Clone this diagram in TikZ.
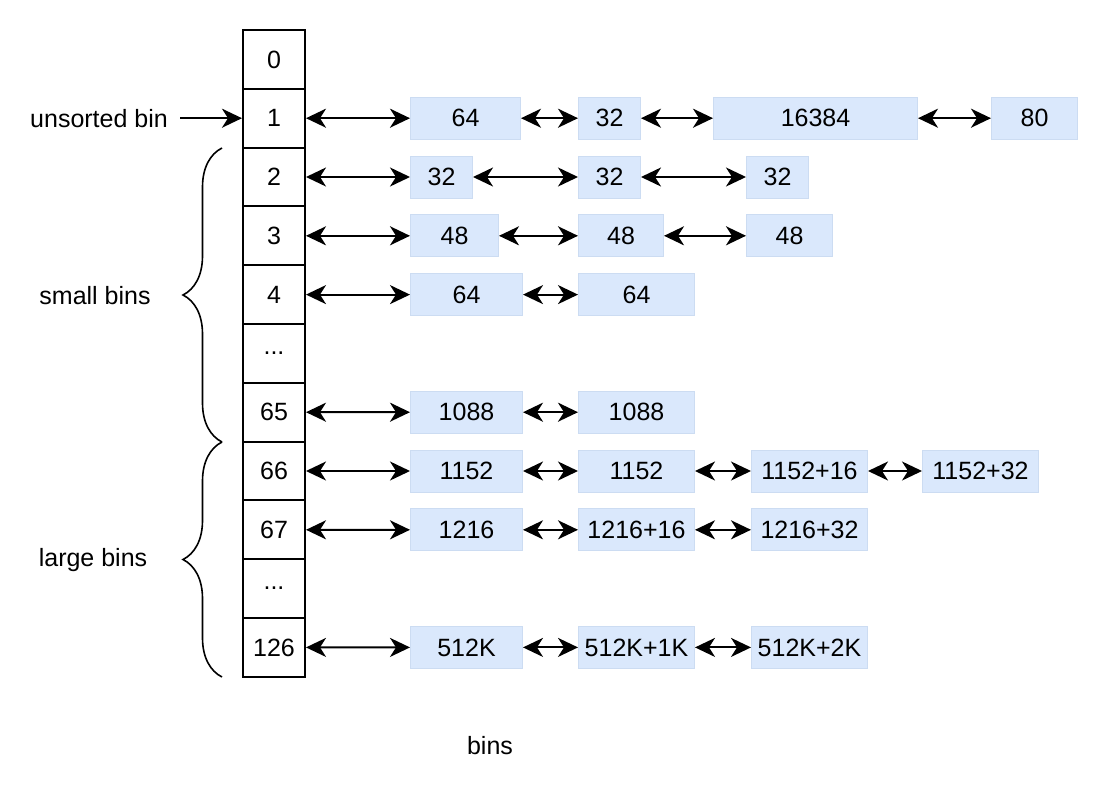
\documentclass[tikz,border=0pt]{standalone}
\usepackage{fontspec}
\setmainfont{Liberation Sans}
\usetikzlibrary{arrows.meta, positioning, decorations.pathreplacing}
\definecolor{chunkfill}{HTML}{DAE8FC}
\definecolor{chunkline}{HTML}{CCDCF2}
\newcommand{\rowdots}{...}

\begin{document}
\begin{tikzpicture}[
  x=0.5pt, y=-0.5pt,
  font=\fontsize{12.5}{14}\selectfont,
  slot/.style={rectangle, draw, line width=1pt, minimum width=31pt,
               minimum height=29.4pt, inner sep=0pt},
  chunk/.style={rectangle, fill=chunkfill, draw=chunkline, line width=0.5pt,
                minimum height=21pt, inner sep=0pt, anchor=west},
  link/.style={{Stealth[length=10pt, width=9.5pt, inset=3pt]}-{Stealth[length=10pt, width=9.5pt, inset=3pt]},
               line width=1pt},
  lbl/.style={inner sep=6pt},
  curly/.style={decorate, decoration={brace, amplitude=19.5pt}, line width=0.8pt},
]
  \useasboundingbox (0,0) rectangle (1096,787);

  %% -- bin array (one slot per row) ---------------------------------------
  \foreach \txt/\nm [count=\i from 0] in {0/b0, 1/b1, 2/b2, 3/b3, 4/b4, \rowdots/bdotsa,
      65/b65, 66/b66, 67/b67, \rowdots/bdotsb, 126/b126}
    \node[slot] (\nm) at (274,{30+58.8*(\i+0.5)}) {\txt};

  %% -- free chunks, one row per bin --------------------------------------
  \node[chunk, minimum width=55pt]  (r1a) at (410,118.2) {64};
  \node[chunk, minimum width=31pt]  (r1b) at (578,118.2) {32};
  \node[chunk, minimum width=102pt] (r1c) at (713,118.2) {16384};
  \node[chunk, minimum width=43pt]  (r1d) at (991,118.2) {80};

  \node[chunk, minimum width=31pt]  (r2a) at (410,177) {32};
  \node[chunk, minimum width=31pt]  (r2b) at (578,177) {32};
  \node[chunk, minimum width=31pt]  (r2c) at (746,177) {32};

  \node[chunk, minimum width=44pt]  (r3a) at (410,235.8) {48};
  \node[chunk, minimum width=42.5pt](r3b) at (578,235.8) {48};
  \node[chunk, minimum width=43pt]  (r3c) at (746,235.8) {48};

  \node[chunk, minimum width=56pt]  (r4a) at (410,294.6) {64};
  \node[chunk, minimum width=58pt]  (r4b) at (578,294.6) {64};

  \node[chunk, minimum width=56pt]  (r65a) at (410,412.2) {1088};
  \node[chunk, minimum width=58pt]  (r65b) at (578,412.2) {1088};

  \node[chunk, minimum width=56pt]  (r66a) at (410,471) {1152};
  \node[chunk, minimum width=58pt]  (r66b) at (578,471) {1152};
  \node[chunk, minimum width=58pt]  (r66c) at (751,471) {1152+16};
  \node[chunk, minimum width=58pt]  (r66d) at (922,471) {1152+32};

  \node[chunk, minimum width=56pt]  (r67a) at (410,529.8) {1216};
  \node[chunk, minimum width=58pt]  (r67b) at (578,529.8) {1216+16};
  \node[chunk, minimum width=58pt]  (r67c) at (751,529.8) {1216+32};

  \node[chunk, minimum width=56pt]  (r126a) at (410,647.4) {512K};
  \node[chunk, minimum width=58pt]  (r126b) at (578,647.4) {512K+1K};
  \node[chunk, minimum width=58pt]  (r126c) at (751,647.4) {512K+2K};

  %% -- doubly linked arrows ----------------------------------------------
  \foreach \a/\b in {b1/r1a, r1a/r1b, r1b/r1c, r1c/r1d,
                     b2/r2a, r2a/r2b, r2b/r2c,
                     b3/r3a, r3a/r3b, r3b/r3c,
                     b4/r4a, r4a/r4b,
                     b65/r65a, r65a/r65b,
                     b66/r66a, r66a/r66b, r66b/r66c, r66c/r66d,
                     b67/r67a, r67a/r67b, r67b/r67c,
                     b126/r126a, r126a/r126b, r126b/r126c}
    \draw[link] (\a) -- (\b);

  %% -- labels and braces on the left -------------------------------------
  \node[lbl] (unsorted) at (99,118.2) {unsorted bin};
  \draw[-{Stealth[length=10pt, width=9.5pt, inset=3pt]}, line width=1pt] (unsorted) -- (b1);

  \coordinate (smtop) at (222,148);
  \coordinate (smbot) at (222,442);
  \coordinate (lgbot) at (222,677);
  \draw[curly] (smbot) -- (smtop);
  \draw[curly] (lgbot) -- (smbot);

  \node (small) at (95,296) {small bins};
  \node (large) at (93,560) {large bins};
  \node (title) at (490,746) {bins};

\end{tikzpicture}
\end{document}
